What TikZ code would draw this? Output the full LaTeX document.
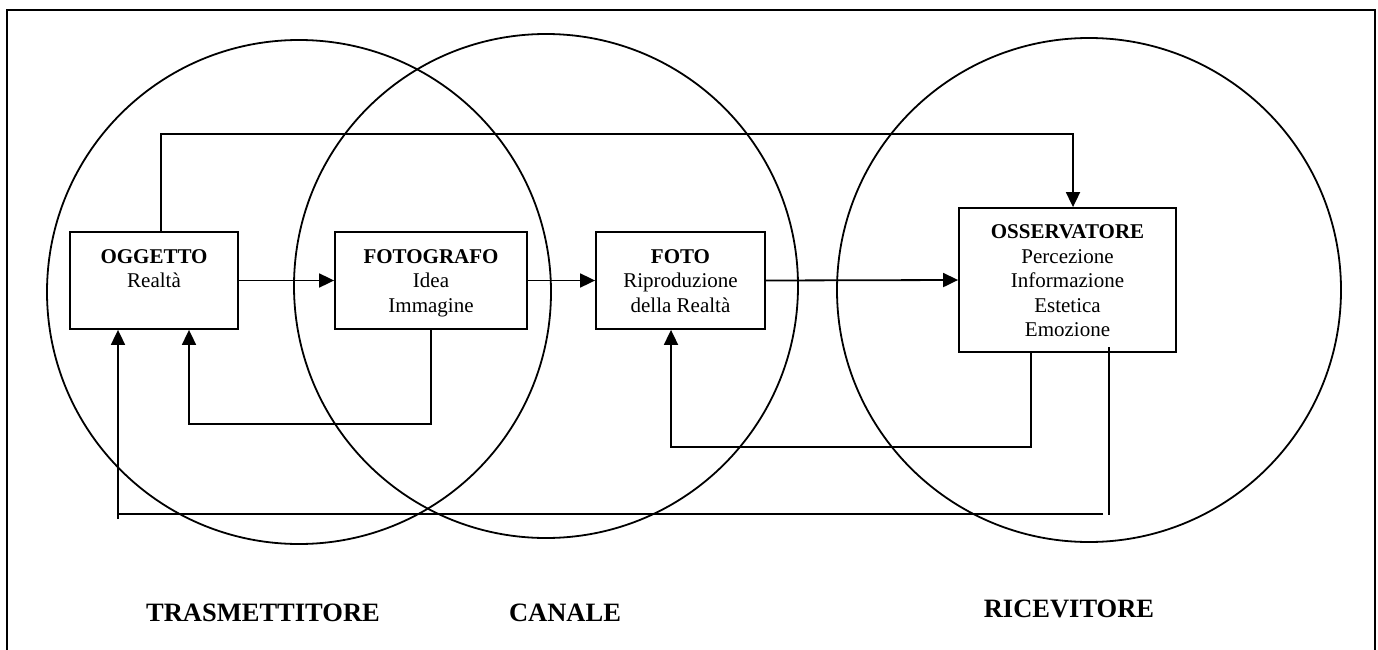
\documentclass[tikz,border=0pt]{standalone}
\usepackage{fontspec}
\setmainfont{Liberation Serif}
\usetikzlibrary{arrows.meta}
\tikzset{
  ln/.style={line width=1.8pt},
  arr/.style={ln,-{Triangle[length=15pt,width=14pt]}},
  boxn/.style={draw,ln,fill=white,inner sep=0pt},
  boxtext/.style={anchor=north,inner sep=0pt,align=center,font=\fontsize{21}{24.5}\selectfont},
  lbl/.style={anchor=base,inner sep=0pt,font=\fontsize{26.5}{30}\selectfont\bfseries},
}
\begin{document}
\begin{tikzpicture}[x=1pt,y=-1pt]
\useasboundingbox (0,0) rectangle (1378,650);
\draw[ln] (7,670) -- (7,10) -- (1375,10) -- (1375,670);
% circles
\draw[ln] (299,292) circle[radius=252];
\draw[ln] (546,286) circle[radius=252];
\draw[ln] (1089,290) circle[radius=252];
% boxes
\node[boxn,minimum width=168pt,minimum height=97pt] (ogg) at (154,280.5) {};
\node[boxn,minimum width=192pt,minimum height=97pt] (fotog) at (431,280.5) {};
\node[boxn,minimum width=169pt,minimum height=97pt] (foto) at (680.5,280.5) {};
\node[boxn,minimum width=217pt,minimum height=144pt] (oss) at (1067.5,280) {};
\node[boxtext] (oggT) at ([yshift=-18pt]ogg.north) {\textbf{OGGETTO}\\Realtà};
\node[boxtext] (fotogT) at ([yshift=-18pt]fotog.north) {\textbf{FOTOGRAFO}\\Idea\\Immagine};
\node[boxtext] (fotoT) at ([yshift=-18pt]foto.north) {\textbf{FOTO}\\Riproduzione\\della Realtà};
\node[boxtext] (ossT) at ([yshift=-17.5pt]oss.north) {\textbf{OSSERVATORE}\\Percezione\\Informazione\\Estetica\\Emozione};
% coordinates
\coordinate (top) at (600,134);
\coordinate (loopA) at (300,424);
\coordinate (loopB) at (850,447);
\coordinate (longTop) at (1109,347);
\coordinate (longBot) at (1109,515);
\coordinate (botR) at (1103,514);
\coordinate (botL) at (118,514);
\coordinate (botStub) at (118,519);
% connectors
\draw[arr] (ogg.east) -- (fotog.west);
\draw[arr] (fotog.east) -- (foto.west);
\draw[arr] (foto.east) -- (oss.west);
\draw[arr] ([xshift=7pt]ogg.north) |- (top) -| ([xshift=5.5pt]oss.north);
\draw[arr] (fotog.south) |- (loopA) -| ([xshift=35pt]ogg.south);
\draw[arr] ([xshift=-36.5pt]oss.south) |- (loopB) -| ([xshift=-9.5pt]foto.south);
\draw[ln] (longTop) -- (longBot);
\draw[ln] (botR) -- (botL);
\draw[arr] (botStub) -- ([xshift=-36pt]ogg.south);
% labels
\node[lbl] (l1) at (263,621) {TRASMETTITORE};
\node[lbl] (l2) at (565,621) {CANALE};
\node[lbl] (l3) at (1069,617) {RICEVITORE};
\end{tikzpicture}
\end{document}
